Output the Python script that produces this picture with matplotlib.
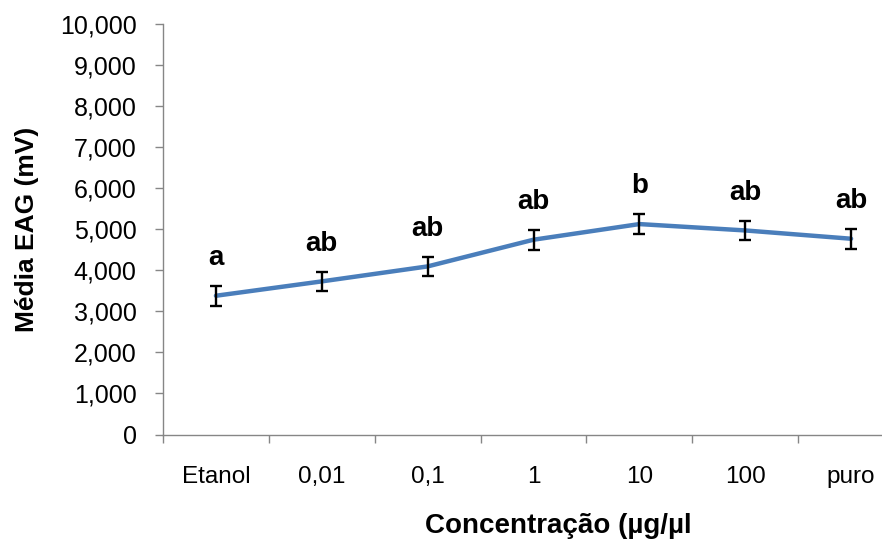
import matplotlib
matplotlib.use('Agg')
import matplotlib.pyplot as plt
from matplotlib.ticker import FuncFormatter, FixedLocator

plt.rcParams['font.family'] = ['Liberation Sans', 'DejaVu Sans']

# dados
concentracoes = ['Etanol', '0,01', '0,1', '1', '10', '100', 'puro']
media_eag = [3380, 3730, 4095, 4745, 5126, 4971, 4769]
erro = [240, 240, 235, 240, 250, 240, 240]
letras = ['a', 'ab', 'ab', 'ab', 'b', 'ab', 'ab']

fig = plt.figure(figsize=(8.82, 5.4), dpi=100)
ax = fig.add_axes([163 / 882, 1 - 434.5 / 540, 741 / 882, 410.5 / 540])

x = list(range(len(concentracoes)))
ax.plot(x, media_eag, color='#4A7EBB', linewidth=3.2, solid_capstyle='round', zorder=2)
ax.errorbar(x, media_eag, yerr=erro, fmt='none', ecolor='black', elinewidth=1.7,
            capsize=4, capthick=1.7, zorder=3)

# letras de significancia
for xi, m, e, l in zip(x, media_eag, erro, letras):
    ax.annotate(l, (xi, m + e), xytext=(0, 15), textcoords='offset points',
                ha='center', va='baseline', fontsize=20, fontweight='bold')

ax.set_xlim(-0.5, len(concentracoes) - 0.5)
ax.set_ylim(0, 10000)
ax.set_yticks(range(0, 10001, 1000))
ax.yaxis.set_major_formatter(FuncFormatter(lambda v, p: '{:,.0f}'.format(v)))

# ticks entre categorias, rotulos no centro
ax.xaxis.set_major_locator(FixedLocator([i - 0.5 for i in range(len(concentracoes) + 1)]))
ax.xaxis.set_minor_locator(FixedLocator(x))
ax.set_xticklabels([''] * (len(concentracoes) + 1))
ax.set_xticklabels(concentracoes, minor=True)
ax.tick_params(axis='x', which='major', length=6, color='#868686', width=1)
ax.tick_params(axis='x', which='minor', length=0, pad=23, labelsize=17.5)
ax.tick_params(axis='y', length=6, color='#868686', width=1, pad=13, labelsize=18)

for s in ['top', 'right']:
    ax.spines[s].set_visible(False)
for s in ['left', 'bottom']:
    ax.spines[s].set_color('#868686')
    ax.spines[s].set_linewidth(1)

ax.set_ylabel('Média EAG (mV)', fontsize=19, fontweight='bold', labelpad=15)
fig.text(558 / 882, 1 - 533 / 540, 'Concentração (µg/µl', fontsize=20, fontweight='bold',
         ha='center', va='baseline')

fig.savefig('out.png', dpi=100)
